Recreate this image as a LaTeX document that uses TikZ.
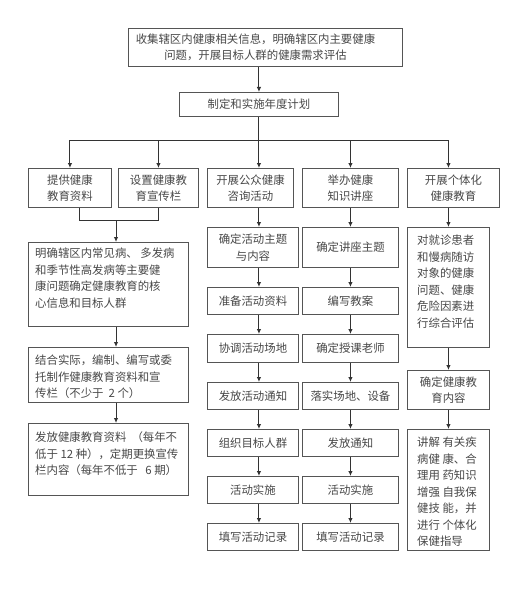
\documentclass[tikz,border=0pt]{standalone}
\usepackage{fontspec}
\newfontfamily\cjk{Noto Sans CJK SC}
\usetikzlibrary{arrows.meta}
\definecolor{linedark}{HTML}{333333}
\definecolor{boxgray}{HTML}{555555}
\definecolor{txtgray}{HTML}{484848}
\tikzset{
  box/.style={draw=boxgray, line width=0.9pt, inner sep=0pt, anchor=north west, align=center, text=txtgray, font=\cjk\fontsize{11.4}{16.5}\selectfont},
  txt/.style={inner sep=0pt, anchor=north west, align=left, text=txtgray, font=\cjk\fontsize{11.4}{16.5}\selectfont},
  link/.style={draw=linedark, line width=1pt},
  arr/.style={link, -{Latex[length=5pt,width=4.5pt]}},
}
\begin{document}
\begin{tikzpicture}[x=1pt,y=1pt]
    \fill[white] (0,0) rectangle (518,-599);
    \useasboundingbox (0,0) rectangle (518,-599);
    % top
    \node[box, minimum width=274pt, minimum height=38pt] (tb) at (128,-28) {};
    \node[txt, anchor=center, align=center] at ([xshift=-10pt]tb.center) {收集辖区内健康相关信息，明确辖区内主要健康\\问题，开展目标人群的健康需求评估};
    \node[box, minimum width=159pt, minimum height=24pt] (plan) at (179,-92) {制定和实施年度计划};
    % five branches
    \node[box, minimum width=83pt, minimum height=39pt] (hA) at (28,-168) {提供健康\\教育资料};
    \node[box, minimum width=80pt, minimum height=39pt] (hB) at (118,-168) {设置健康教\\育宣传栏};
    \node[box, minimum width=86pt, minimum height=39pt] (hC) at (207,-168) {开展公众健康\\咨询活动};
    \node[box, minimum width=96pt, minimum height=39pt] (hD) at (302,-168) {举办健康\\知识讲座};
    \node[box, minimum width=92pt, minimum height=39pt] (hE) at (407,-168) {开展个体化\\健康教育};
    % left column
    \node[box, minimum width=160pt, minimum height=84pt] (l1) at (28,-242) {};
    \node[txt] at ([shift={(7pt,-6pt)}]l1.north west) {明确辖区内常见病、 多发病\\和季节性高发病等主要健\\康问题确定健康教育的核\\心信息和目标人群};
    \node[box, minimum width=160pt, minimum height=55pt] (l2) at (28,-347) {};
    \node[txt] at ([shift={(7pt,-8pt)}]l2.north west) {结合实际，编制、编写或委\\托制作健康教育资料和宣\\传栏（不少于 \ 2 个）};
    \node[box, minimum width=160pt, minimum height=72pt] (l3) at (28,-423) {};
    \node[txt] at ([shift={(7pt,-9pt)}]l3.north west) {发放健康教育资料 \ （每年不\\低于 12 种），定期更换宣传\\栏内容（每年不低于 \ \ 6 期）};
    % consultation column
    \node[box, minimum width=91pt, minimum height=40pt] (c1) at (207,-227) {确定活动主题\\与内容};
    \node[box, minimum width=91pt, minimum height=27pt] (c2) at (207,-287) {准备活动资料};
    \node[box, minimum width=91pt, minimum height=28pt] (c3) at (207,-334) {协调活动场地};
    \node[box, minimum width=91pt, minimum height=27pt] (c4) at (207,-382) {发放活动通知};
    \node[box, minimum width=91pt, minimum height=27pt] (c5) at (207,-429) {组织目标人群};
    \node[box, minimum width=91pt, minimum height=27pt] (c6) at (207,-476) {活动实施};
    \node[box, minimum width=91pt, minimum height=27pt] (c7) at (207,-523) {填写活动记录};
    % lecture column
    \node[box, minimum width=96pt, minimum height=40pt] (d1) at (302,-227) {确定讲座主题};
    \node[box, minimum width=96pt, minimum height=27pt] (d2) at (302,-287) {编写教案};
    \node[box, minimum width=96pt, minimum height=28pt] (d3) at (302,-334) {确定授课老师};
    \node[box, minimum width=96pt, minimum height=27pt] (d4) at (302,-382) {落实场地、设备};
    \node[box, minimum width=96pt, minimum height=27pt] (d5) at (302,-429) {发放通知};
    \node[box, minimum width=96pt, minimum height=27pt] (d6) at (302,-476) {活动实施};
    \node[box, minimum width=96pt, minimum height=27pt] (d7) at (302,-523) {填写活动记录};
    % individual column
    \node[box, minimum width=82pt, minimum height=120pt] (e1) at (407,-227) {};
    \node[txt] at ([shift={(10pt,-8pt)}]e1.north west) {对就诊患者\\和慢病随访\\对象的健康\\问题、健康\\危险因素进\\行综合评估};
    \node[box, minimum width=82pt, minimum height=39pt] (e2) at (407,-370) {确定健康教\\育内容};
    \node[box, minimum width=82pt, minimum height=121pt] (e3) at (407,-429) {};
    \node[txt] at ([shift={(10pt,-8pt)}]e3.north west) {讲解 有关疾\\病健 康、合\\理用 药知识\\增强 自我保\\健技 能，并\\进行 个体化\\保健指导};
    % connectors
    \coordinate (bus) at (0,-140);
    \coordinate (join) at (116,-220);
    \draw[arr] (tb.south -| plan.north) -- (plan.north);
    \draw[arr] (plan.south) -- (plan.south |- hC.north);
    \draw[link] (hA.north |- bus) -- (e1.north |- bus);
    \foreach \h in {hA,hB,hD}
        \draw[arr] (\h.north |- bus) -- (\h.north);
    \draw[arr] (e1.north |- bus) -- (e1.north |- hE.north);
    \draw[link] ([xshift=10pt]hA.south) |- (hB.south |- join) -- (hB.south);
    \draw[arr] (join) -- (join |- l1.north);
    \draw[arr] (l1.south -| join) -- (l2.north -| join);
    \draw[arr] (l2.south -| join) -- (l3.north -| join);
    \foreach \a/\b in {hC/c1,c1/c2,c2/c3,c3/c4,c4/c5,c5/c6,c6/c7}
        \draw[arr] (\a.south -| plan.south) -- (\b.north -| plan.south);
    \foreach \a/\b in {hD/d1,d1/d2,d2/d3,d3/d4,d4/d5,d5/d6,d6/d7}
        \draw[arr] (\a.south) -- (\b.north);
    \foreach \a/\b in {hE/e1,e1/e2,e2/e3}
        \draw[arr] (\a.south -| e1.north) -- (\b.north -| e1.north);
\end{tikzpicture}
\end{document}
